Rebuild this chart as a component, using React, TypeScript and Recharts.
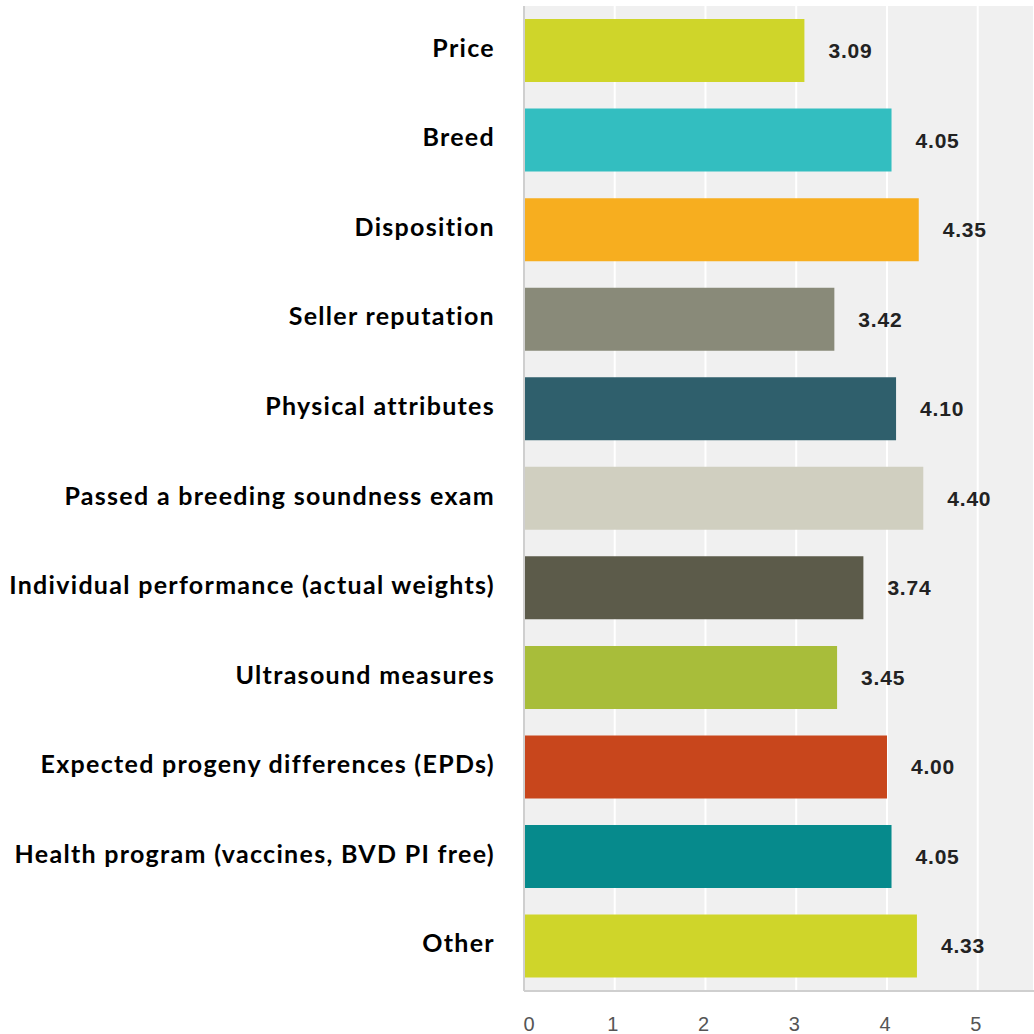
import React from 'react';
import { BarChart, Bar, XAxis, YAxis, CartesianGrid, Cell, LabelList } from 'recharts';

const categories = [
  'Price',
  'Breed',
  'Disposition',
  'Seller reputation',
  'Physical attributes',
  'Passed a breeding soundness exam',
  'Individual performance (actual weights)',
  'Ultrasound measures',
  'Expected progeny differences (EPDs)',
  'Health program (vaccines, BVD PI free)',
  'Other',
];

const scores = [3.09, 4.05, 4.35, 3.42, 4.1, 4.4, 3.74, 3.45, 4.0, 4.05, 4.33];

const barColors = [
  '#cfd52a',
  '#33bec0',
  '#f7ae1f',
  '#898a79',
  '#2f5f6c',
  '#d0cfc0',
  '#5c5b4a',
  '#a8bd3a',
  '#c8461c',
  '#068a8c',
  '#cfd52a',
];

const xTicks = [0, 1, 2, 3, 4, 5];

const data = categories.map((name, i) => ({ name, score: scores[i] }));

const CategoryTick = (props: any) => {
  const { y, payload } = props;
  return (
    <text
      x={495}
      y={y}
      dy={6}
      textAnchor="end"
      fill="#000"
      fontFamily="Lato, 'Open Sans', sans-serif"
      fontWeight="bold"
      fontSize={25}
      style={{ letterSpacing: '1.3px' }}
    >
      {payload.value}
    </text>
  );
};

const ValueTick = (props: any) => {
  const { x, y, payload } = props;
  // the first label sits a little right of the axis in the original
  const shift = payload.value === 0 ? 5 : -2;
  return (
    <text
      x={x + shift}
      y={y + 33}
      dy="0.355em"
      textAnchor="middle"
      fill="#555"
      fontFamily="'Liberation Sans', Arial, sans-serif"
      fontSize={20}
    >
      {payload.value}
    </text>
  );
};

export default function App() {
  return (
    <div style={{ position: 'absolute', left: 0, top: 0, background: '#fff' }}>
      <BarChart
        width={1034}
        height={1034}
        data={data}
        layout="vertical"
        margin={{ top: 6, right: 0, bottom: 0, left: 0 }}
        barCategoryGap="14.6%"
      >
        <CartesianGrid horizontal={false} vertical stroke="#ffffff" strokeWidth={2} fill="#f0f0f0" />
        <XAxis
          type="number"
          domain={[0, 5.62]}
          ticks={xTicks}
          allowDataOverflow
          height={43}
          axisLine={{ stroke: '#cfcfcf', strokeWidth: 2 }}
          tickLine={false}
          tickSize={0}
          tickMargin={0}
          tick={<ValueTick />}
        />
        <YAxis
          type="category"
          dataKey="name"
          width={524}
          axisLine={{ stroke: '#cfcfcf', strokeWidth: 2 }}
          tickLine={false}
          tickSize={0}
          tickMargin={0}
          tick={<CategoryTick />}
          interval={0}
        />
        <Bar dataKey="score" isAnimationActive={false}>
          {data.map((d, i) => (
            <Cell key={d.name} fill={barColors[i]} />
          ))}
          <LabelList
            dataKey="score"
            position="right"
            offset={24}
            formatter={(v: any) => Number(v).toFixed(2)}
            fill="#222"
            fontFamily="'Liberation Sans', Arial, sans-serif"
            fontWeight="bold"
            fontSize={21}
            style={{ letterSpacing: '0.8px' }}
          />
        </Bar>
      </BarChart>
    </div>
  );
}
